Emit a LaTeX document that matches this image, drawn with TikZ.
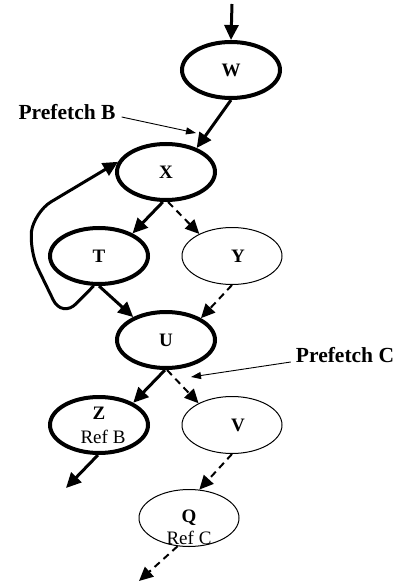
\documentclass[tikz,border=0pt]{standalone}
\usepackage{fontspec}
\setmainfont{Liberation Serif}
\usetikzlibrary{arrows.meta,shapes.geometric}

\begin{document}
\begin{tikzpicture}[x=1pt,y=-1pt,
    state/.style={ellipse,draw,line width=4pt,minimum width=98pt,minimum height=56pt,
        inner sep=0pt,align=center,font=\fontsize{19}{24}\selectfont\bfseries},
    spec/.style={state,line width=1pt,minimum width=100pt,minimum height=57pt},
    link/.style={line width=3pt,-{Triangle[length=15pt,width=14pt]}},
    speclink/.style={line width=2pt,dash pattern=on 7pt off 5pt,-{Triangle[length=14pt,width=13pt]}},
    note/.style={inner sep=0pt,font=\fontsize{21.5}{24}\selectfont\bfseries},
    pointer/.style={line width=0.9pt,-{Triangle[length=10pt,width=7pt]}},
    reftext/.style={inner sep=0pt,font=\fontsize{19}{22}\selectfont\mdseries}]
    \useasboundingbox (0,0) rectangle (396,585);
    % nodes
    \node[state] (W) at (231,70) {W};
    \node[state] (X) at (166,172) {X};
    \node[state] (T) at (99,256) {T};
    \node[spec] (Y) at (232,256) {\hspace*{12pt}Y};
    \node[state] (U) at (166,340) {U};
    \node[state] (Z) at (99,425) {Z\\{\fontsize{19}{24}\selectfont\mdseries\hspace*{8pt}Ref B}};
    \node[spec] (V) at (232,425) {\hspace*{12pt}V};
    \node[spec,label={[reftext,name=refC,yshift=-20pt]center:Ref C}] (Q) at (189,518) {Q};
    \node[note] (PB) at (67,112) {Prefetch B};
    \node[note] (PC) at (345,355) {Prefetch C};
    % free ends
    \coordinate (in) at (232,4);
    \coordinate (pb) at (196,133);
    \coordinate (pc) at (191,377);
    \coordinate (zout) at (66,488);
    \coordinate (qout) at (139,581);
    % edges
    \draw[link] (in) -- (W.north);
    \draw[link] (W.south) -- (X.38);
    \draw[pointer] ([shift={(6,5)}]PB.east) -- (pb);
    \draw[link] (X.-96) -- (T.34);
    \draw[speclink] (X.-86) -- (Y.146);
    \draw[link] (T.-90) -- (U.145);
    \draw[speclink] (Y.-90) -- (U.32);
    \draw[link,rounded corners=20pt] (T.-100) -- (62,318) -- (29,250) -- (34,212) -- (X.168);
    \draw[pointer] ([shift={(-5,7)}]PC.west) -- (pc);
    \draw[link] (U.-92) -- (Z.33);
    \draw[speclink] (U.-88) -- (V.147);
    \draw[link] (Z.-92) -- (zout);
    \draw[speclink] (V.-90) -- (Q.70);
    \draw[speclink] (Q.-112) -- (qout);
\end{tikzpicture}
\end{document}
